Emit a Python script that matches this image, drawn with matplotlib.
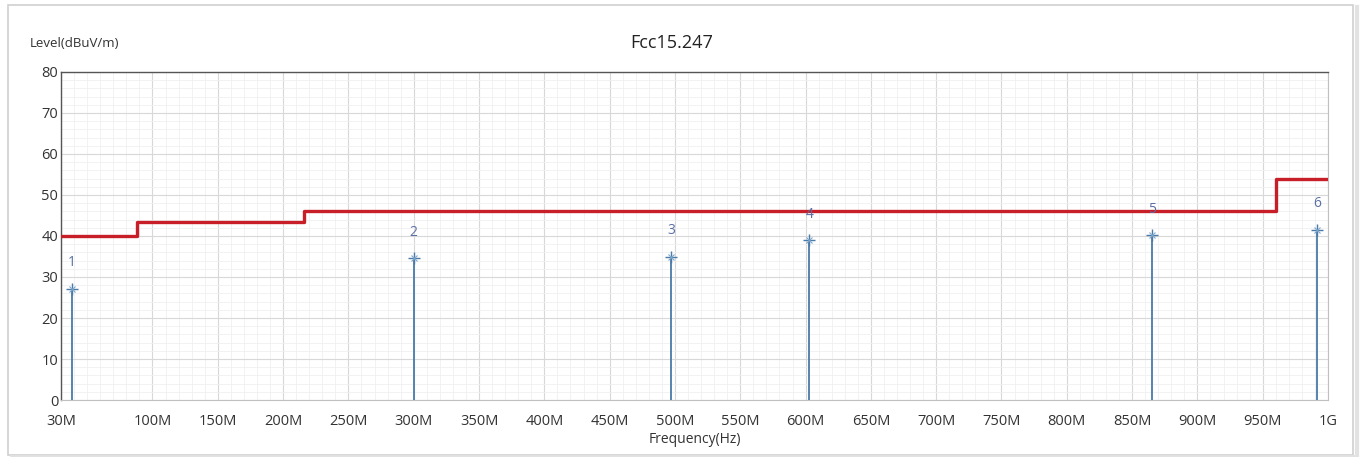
import matplotlib.pyplot as plt
from matplotlib.lines import Line2D
from matplotlib.patches import Rectangle
from matplotlib.ticker import MultipleLocator

# limit line (MHz, dBuV/m), drawn as steps
limit_freq = [30, 88, 216, 960, 1000]
limit_level = [40, 43.5, 46, 54, 54]

# measured peaks
peak_freq = [38.0, 300.0, 497.0, 603.0, 865.0, 991.5]
peak_level = [27.1, 34.6, 34.9, 39.0, 40.2, 41.5]
peak_labels = ["1", "2", "3", "4", "5", "6"]

x_ticks = [30] + list(range(100, 1000, 50)) + [1000]
x_tick_labels = ["30M"] + [f"{f}M" for f in range(100, 1000, 50)] + ["1G"]
y_ticks = list(range(0, 90, 10))

plt.rcParams['font.family'] = ['Open Sans', 'DejaVu Sans']

fig = plt.figure(figsize=(13.6, 4.57), dpi=100)
ax = fig.add_axes([0.0449, 0.1247, 0.9316, 0.7178])

# outer frame, with a soft shadow on the right and bottom edges
fig.patches.append(Rectangle((0.006, 0.004), 0.989, 0.985, transform=fig.transFigure,
                             fill=False, edgecolor='#d0d0d0', linewidth=1.2))
fig.lines.append(Line2D([0.9975, 0.9975], [0.0, 0.985], transform=fig.transFigure,
                        color='#e2e2e2', linewidth=3))
fig.lines.append(Line2D([0.008, 0.9975], [0.002, 0.002], transform=fig.transFigure,
                        color='#e2e2e2', linewidth=2))

ax.set_xlim(30, 1000)
ax.set_ylim(0, 80)
ax.set_xticks(x_ticks)
ax.set_xticklabels(x_tick_labels)
ax.set_yticks(y_ticks)
ax.xaxis.set_minor_locator(MultipleLocator(10))
ax.yaxis.set_minor_locator(MultipleLocator(2))
ax.grid(True, which='major', color='#d8d8d8', linewidth=0.8)
ax.grid(True, which='minor', color='#f0f0f0', linewidth=0.6)
ax.set_axisbelow(True)

ax.tick_params(axis='both', which='both', length=0, labelsize=10.5, colors='#333333')
ax.tick_params(axis='x', pad=10)
ax.tick_params(axis='y', pad=2)
for side in ['left', 'top']:
    ax.spines[side].set_color('#555555')
    ax.spines[side].set_linewidth(1.0)
for side in ['right', 'bottom']:
    ax.spines[side].set_color('#c0c0c0')
    ax.spines[side].set_linewidth(0.8)

# limit line
ax.step(limit_freq, limit_level, where='post', color='#c81e28', linewidth=2.4, zorder=3)

# peak markers
for f, lv, lab in zip(peak_freq, peak_level, peak_labels):
    ax.vlines(f, 0, lv, color='#4a7aa8', linewidth=1.3, zorder=4)
    ax.plot(f, lv, marker='+', color='#4a7aa8', markersize=9, markeredgewidth=1.0, zorder=5)
    ax.plot(f, lv, marker='x', color='#7fa8cc', markersize=5, markeredgewidth=0.8, zorder=5)
    ax.text(f, lv + 4.5, lab, ha='center', va='bottom', fontsize=10, color='#5a6fa5', zorder=6)

fig.text(0.494, 0.905, "Fcc15.247", ha='center', va='center', fontsize=13,
         fontweight='medium', color='#222222')
fig.text(0.022, 0.905, "Level(dBuV/m)", ha='left', va='center', fontsize=9.5, color='#333333')
ax.set_xlabel("Frequency(Hz)", fontsize=10, color='#333333', labelpad=2)

fig.savefig("out.png", dpi=100, facecolor='white')
